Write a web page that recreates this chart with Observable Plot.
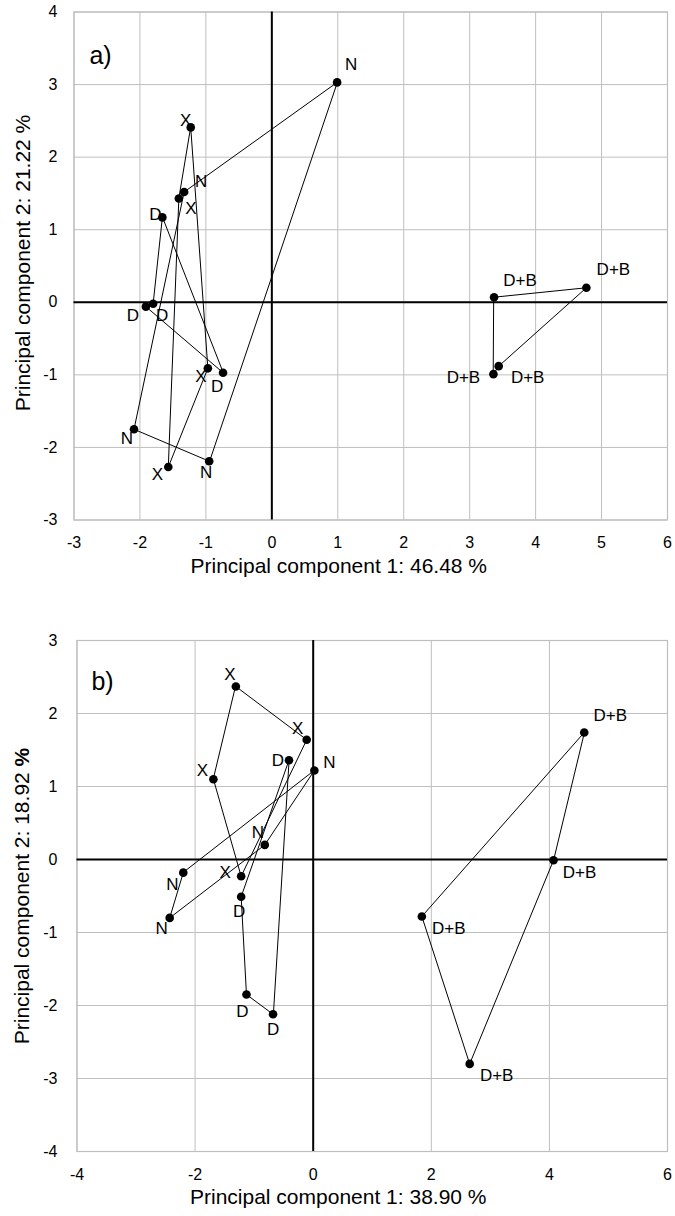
<!DOCTYPE html>
<html><head><meta charset="utf-8">
<script src="https://cdn.jsdelivr.net/npm/d3@7"></script>
<script src="https://cdn.jsdelivr.net/npm/@observablehq/plot@0.6"></script>
<style>
html,body{margin:0;padding:0;background:#fff;}
#chart svg{display:block;}
</style></head><body><div id="chart"></div>
<script>
// ---------- Panel a ----------
const aGroup = ["N","N","N","N","X","X","X","X","D","D","D","D","D+B","D+B","D+B","D+B"];
const aPC1 = [0.99,-1.33,-2.09,-0.95, -1.23,-0.97,-1.57,-1.41, -1.66,-1.80,-1.91,-0.74, 3.37,4.77,3.44,3.36];
const aPC2 = [3.03,1.52,-1.75,-2.19, 2.41,-0.91,-2.27,1.43, 1.17,-0.02,-0.06,-0.97, 0.07,0.20,-0.88,-0.99];
const aLabelDx = [14,17,-7,-3, -5,-7,-11,12, -7,9,-13,-6, 26,27,29,-30];
const aLabelDy = [-18,-10,9,11, -7,8,8,10, -3,12,9,14, -17,-18,11,3];
const aXTicks = [-3,-2,-1,0,1,2,3,4,5,6];
const aYTicks = [-3,-2,-1,0,1,2,3,4];
const aXTitle = "Principal component 1: 46.48 %";
const aYTitle = "Principal component 2: 21.22 %";
const aTag = "a)";

// ---------- Panel b ----------
const bGroup = ["X","X","X","X","D","D","D","D","N","N","N","N","D+B","D+B","D+B","D+B"];
const bPC1 = [-1.31,-0.11,-1.22,-1.69, -0.41,-1.22,-1.13,-0.68, 0.02,-0.82,-2.43,-2.20, 4.59,1.84,2.65,4.07];
const bPC2 = [2.37,1.64,-0.23,1.10, 1.36,-0.51,-1.85,-2.12, 1.22,0.20,-0.80,-0.18, 1.74,-0.78,-2.80,-0.01];
const bLabelDx = [-6,-9,-16,-11, -11,-2,-4,0, 15,-7,-8,-11, 26,27,27,26];
const bLabelDy = [-12,-11,-4,-9, 0,15,17,15, -8,-12,11,12, -17,12,12,12];
const bXTicks = [-4,-2,0,2,4,6];
const bYTicks = [-4,-3,-2,-1,0,1,2,3];
const bXTitle = "Principal component 1: 38.90 %";
const bYTitle = "Principal component 2: 18.92 %";
const bTag = "b)";

const FONT = "'Liberation Sans', Arial, Helvetica, sans-serif";
const fmt = d => String(d);

function panel(cfg) {
  const data = cfg.group.map((g, i) => ({g, x: cfg.pc1[i], y: cfg.pc2[i], ldx: cfg.ldx[i], ldy: cfg.ldy[i]}));
  const labelMarks = data.map(d => Plot.text([d], {x: "x", y: "y", text: "g", dx: d.ldx, dy: d.ldy, fontSize: 17, fill: "#000"}));
  return Plot.plot({
    width: 675,
    height: cfg.height,
    marginTop: cfg.mt, marginBottom: cfg.mb, marginLeft: cfg.ml, marginRight: cfg.mr,
    style: {fontFamily: FONT, fontSize: "16px", color: "#000", background: "#fff", overflow: "visible"},
    x: {domain: [cfg.xTicks[0], cfg.xTicks[cfg.xTicks.length - 1]]},
    y: {domain: [cfg.yTicks[0], cfg.yTicks[cfg.yTicks.length - 1]]},
    marks: [
      Plot.gridX(cfg.xTicks, {stroke: "#bfbfbf", strokeOpacity: 1, strokeWidth: 1}),
      Plot.gridY(cfg.yTicks, {stroke: "#bfbfbf", strokeOpacity: 1, strokeWidth: 1}),
      Plot.frame({stroke: "#bfbfbf", strokeWidth: 1.2}),
      Plot.ruleX([0], {stroke: "#000", strokeWidth: 2}),
      Plot.ruleY([0], {stroke: "#000", strokeWidth: 2}),
      Plot.line(data, {x: "x", y: "y", z: "g", curve: "linear-closed", stroke: "#000", strokeWidth: 1}),
      Plot.dot(data, {x: "x", y: "y", r: 4.3, fill: "#000", stroke: null}),
      ...labelMarks,
      Plot.axisX(cfg.xTicks, {tickSize: 0, tickPadding: 17, fontSize: 16, fill: "#000", label: null, tickFormat: fmt}),
      Plot.axisY(cfg.yTicks, {tickSize: 0, tickPadding: cfg.ypad, fontSize: 16, fill: "#000", label: null, tickFormat: fmt}),
      Plot.text([cfg.xTitle], {frameAnchor: "bottom", textAnchor: "middle", dx: cfg.xtdx, dy: cfg.xtdy, fontSize: 21, fill: "#000"}),
      Plot.text([cfg.yTitle], {frameAnchor: "left", textAnchor: "middle", rotate: -90, dx: cfg.ytdx, dy: cfg.ytdy, fontSize: 21, fill: "#000"}),
      Plot.text([cfg.tag], {frameAnchor: "top-left", textAnchor: "middle", dx: cfg.tagdx, dy: cfg.tagdy, fontSize: 25, fill: "#000"})
    ]
  });
}

const svgA = panel({
  group: aGroup, pc1: aPC1, pc2: aPC2, ldx: aLabelDx, ldy: aLabelDy,
  xTicks: aXTicks, yTicks: aYTicks, xTitle: aXTitle, yTitle: aYTitle, tag: aTag,
  height: 600, mt: 11.5, mb: 80.5, ml: 73.5, mr: 8, ypad: 16.5,
  xtdx: -32, xtdy: 53, ytdx: -50.5, ytdy: -3, tagdx: 26.5, tagdy: 34.5
});
const svgB = panel({
  group: bGroup, pc1: bPC1, pc2: bPC2, ldx: bLabelDx, ldy: bLabelDy,
  xTicks: bXTicks, yTicks: bYTicks, xTitle: bXTitle, yTitle: bYTitle, tag: bTag,
  height: 616, mt: 40, mb: 65, ml: 76.5, mr: 8, ypad: 19.5,
  xtdx: -34, xtdy: 52, ytdx: -54.5, ytdy: 0, tagdx: 25.5, tagdy: 32
});

// bold percent sign in panel b's y title, as in the reference
svgB.querySelectorAll("text").forEach(t => {
  if (t.textContent === bYTitle) {
    t.textContent = bYTitle.slice(0, -1);
    const ts = document.createElementNS("http://www.w3.org/2000/svg", "tspan");
    ts.setAttribute("font-weight", "bold");
    ts.textContent = "%";
    t.appendChild(ts);
  }
});

document.getElementById("chart").append(svgA, svgB);
</script>
</body></html>
